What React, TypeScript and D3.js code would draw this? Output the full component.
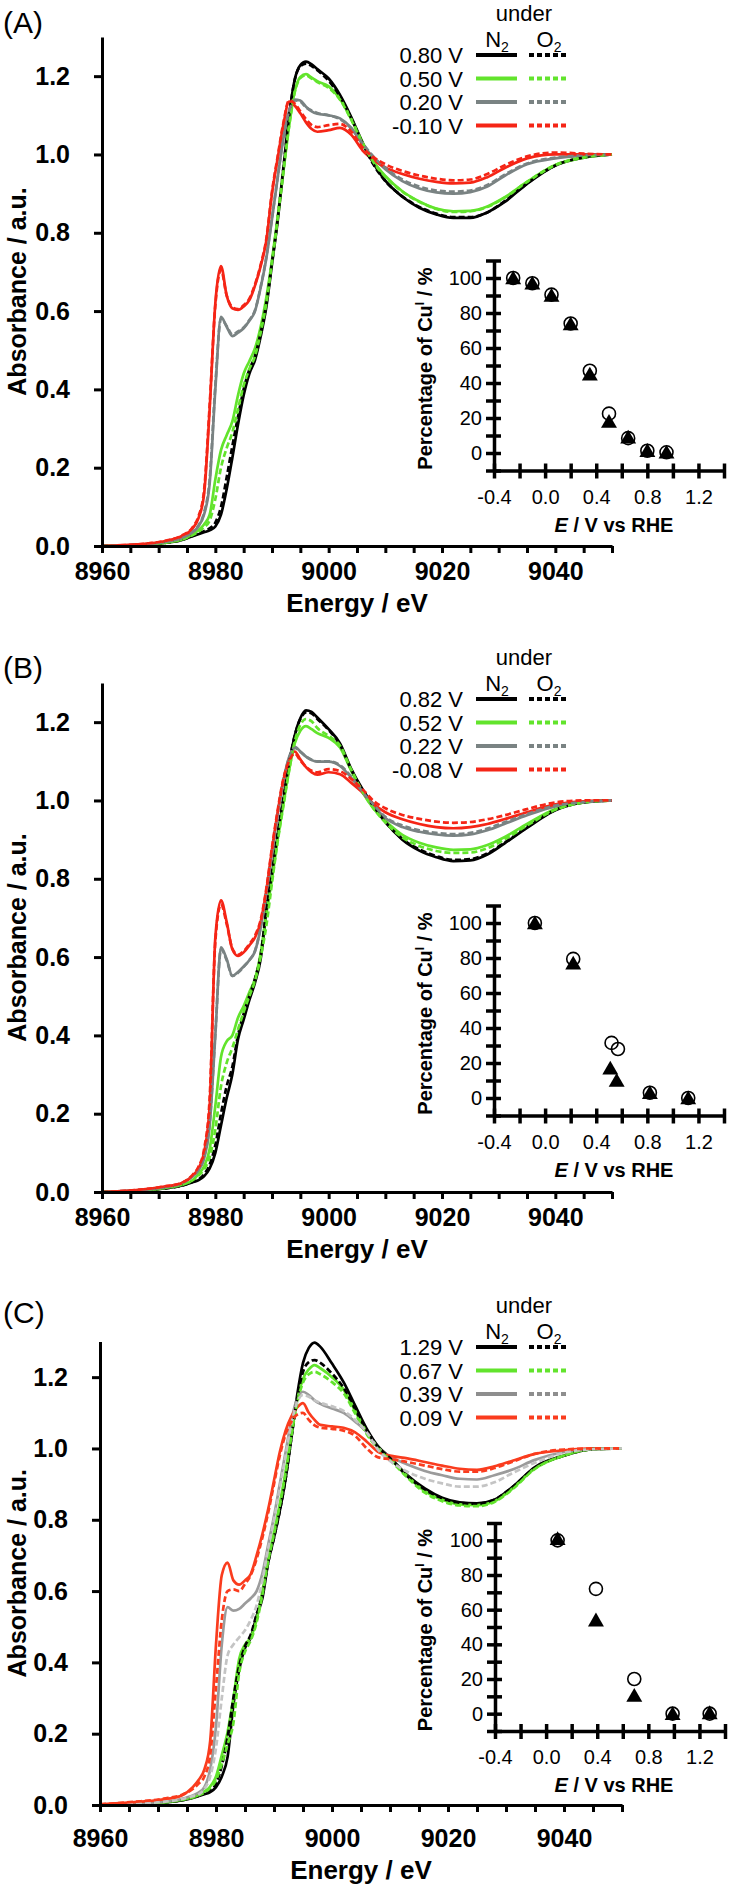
import React, {useEffect, useRef} from 'react';
import * as d3 from 'd3';

const FONT = '"Liberation Sans", Arial, Helvetica, sans-serif';

// energy grid (eV) shared by every spectrum
const energy = [
  8960, 8966, 8971, 8974, 8976, 8977, 8978, 8979, 8980, 8981,
  8982, 8983, 8984, 8985, 8986, 8987, 8988, 8989, 8990, 8991,
  8992, 8993, 8994, 8995, 8996, 8997, 8998, 9000, 9002, 9004,
  9006, 9008, 9010, 9013, 9016, 9019, 9022, 9025, 9028, 9031,
  9035, 9040, 9045, 9050,
];

const energyTicks = [8960, 8965, 8970, 8975, 8980, 8985, 8990, 8995, 9000, 9005, 9010, 9015, 9020, 9025, 9030, 9035, 9040, 9045, 9050];
const energyLabels = [8960, 8980, 9000, 9020, 9040];
const absTicks = [0, 0.2, 0.4, 0.6, 0.8, 1.0, 1.2];
const pctTicks = [-10, 0, 10, 20, 30, 40, 50, 60, 70, 80, 90, 100, 110];
const pctLabels = [0, 20, 40, 60, 80, 100];
const potTicks = [-0.4, -0.2, 0, 0.2, 0.4, 0.6, 0.8, 1.0, 1.2, 1.4];
const potLabels = [-0.4, 0, 0.4, 0.8, 1.2];

// ---- panel A ----
const legendA = ['0.80 V', '0.50 V', '0.20 V', '-0.10 V'];
const aBlackN2 = [
  0.000, 0.002, 0.008, 0.015, 0.025, 0.030, 0.035, 0.040, 0.050, 0.080,
  0.145, 0.225, 0.310, 0.385, 0.440, 0.475, 0.535, 0.610, 0.720, 0.830,
  0.960, 1.095, 1.190, 1.228, 1.237, 1.230, 1.218, 1.194, 1.152, 1.095,
  1.030, 0.975, 0.933, 0.892, 0.864, 0.847, 0.838, 0.838, 0.852, 0.878,
  0.925, 0.972, 0.992, 1.000,
];
const aBlackO2 = [
  0.000, 0.002, 0.008, 0.015, 0.026, 0.032, 0.038, 0.045, 0.060, 0.100,
  0.175, 0.255, 0.330, 0.400, 0.450, 0.485, 0.545, 0.620, 0.725, 0.835,
  0.965, 1.095, 1.190, 1.225, 1.232, 1.226, 1.215, 1.188, 1.148, 1.092,
  1.028, 0.972, 0.932, 0.893, 0.866, 0.849, 0.840, 0.840, 0.852, 0.880,
  0.926, 0.972, 0.993, 1.000,
];
const aGreenN2 = [
  0.000, 0.002, 0.008, 0.016, 0.030, 0.040, 0.055, 0.080, 0.170, 0.245,
  0.283, 0.318, 0.385, 0.440, 0.472, 0.505, 0.560, 0.635, 0.730, 0.840,
  0.955, 1.070, 1.160, 1.198, 1.205, 1.196, 1.187, 1.174, 1.142, 1.090,
  1.030, 0.980, 0.945, 0.906, 0.880, 0.862, 0.855, 0.856, 0.867, 0.890,
  0.930, 0.973, 0.992, 1.000,
];
const aGreenO2 = [
  0.000, 0.002, 0.008, 0.016, 0.028, 0.036, 0.048, 0.065, 0.120, 0.200,
  0.250, 0.290, 0.350, 0.410, 0.452, 0.485, 0.545, 0.620, 0.725, 0.835,
  0.955, 1.070, 1.158, 1.195, 1.202, 1.194, 1.185, 1.170, 1.140, 1.088,
  1.028, 0.978, 0.943, 0.905, 0.879, 0.861, 0.853, 0.855, 0.866, 0.889,
  0.930, 0.973, 0.993, 1.000,
];
const aGrayN2 = [
  0.000, 0.003, 0.010, 0.020, 0.035, 0.050, 0.080, 0.160, 0.400, 0.585,
  0.560, 0.536, 0.545, 0.556, 0.575, 0.600, 0.660, 0.735, 0.835, 0.940,
  1.040, 1.110, 1.140, 1.138, 1.122, 1.110, 1.104, 1.100, 1.092, 1.068,
  1.025, 0.990, 0.962, 0.932, 0.913, 0.903, 0.900, 0.904, 0.918, 0.945,
  0.975, 0.990, 0.997, 1.000,
];
const aGrayO2 = [
  0.000, 0.003, 0.010, 0.020, 0.036, 0.052, 0.085, 0.170, 0.410, 0.580,
  0.562, 0.540, 0.548, 0.558, 0.577, 0.602, 0.662, 0.738, 0.838, 0.942,
  1.042, 1.110, 1.138, 1.135, 1.120, 1.112, 1.106, 1.100, 1.090, 1.066,
  1.028, 0.993, 0.966, 0.936, 0.918, 0.908, 0.905, 0.908, 0.922, 0.948,
  0.977, 0.992, 0.998, 1.000,
];
const aRedN2 = [
  0.000, 0.004, 0.012, 0.025, 0.045, 0.070, 0.130, 0.350, 0.620, 0.715,
  0.640, 0.607, 0.603, 0.612, 0.628, 0.665, 0.715, 0.780, 0.900, 0.990,
  1.075, 1.135, 1.125, 1.105, 1.082, 1.065, 1.058, 1.062, 1.068, 1.050,
  1.010, 0.985, 0.967, 0.950, 0.938, 0.930, 0.926, 0.928, 0.942, 0.965,
  0.990, 1.000, 1.000, 1.000,
];
const aRedO2 = [
  0.000, 0.004, 0.013, 0.026, 0.048, 0.075, 0.140, 0.360, 0.615, 0.705,
  0.640, 0.610, 0.605, 0.615, 0.632, 0.668, 0.718, 0.785, 0.905, 0.995,
  1.080, 1.138, 1.130, 1.110, 1.090, 1.075, 1.070, 1.075, 1.078, 1.058,
  1.018, 0.992, 0.975, 0.958, 0.946, 0.938, 0.934, 0.936, 0.950, 0.972,
  0.995, 1.005, 1.002, 1.000,
];
const insetEA = [-0.25, -0.1, 0.05, 0.2, 0.35, 0.5, 0.65, 0.8, 0.95];
const circleA = [100, 97, 90.5, 74, 47, 22.5, 8.5, 1.3, 0.4];
const triangleEA = [-0.25, -0.1, 0.05, 0.2, 0.35, 0.5, 0.65, 0.8, 0.95];
const triangleA = [99, 96, 89, 72.8, 44, 17, 8, 0.4, -0.5];

// ---- panel B ----
const legendB = ['0.82 V', '0.52 V', '0.22 V', '-0.08 V'];
const bBlackN2 = [
  0.000, 0.003, 0.009, 0.016, 0.025, 0.030, 0.040, 0.060, 0.100, 0.170,
  0.240, 0.300, 0.390, 0.440, 0.490, 0.535, 0.595, 0.715, 0.810, 0.910,
  1.000, 1.090, 1.165, 1.210, 1.230, 1.226, 1.212, 1.182, 1.146, 1.080,
  1.028, 0.985, 0.945, 0.900, 0.872, 0.855, 0.845, 0.847, 0.862, 0.890,
  0.930, 0.975, 0.995, 1.000,
];
const bBlackO2 = [
  0.000, 0.003, 0.009, 0.016, 0.026, 0.032, 0.045, 0.070, 0.120, 0.200,
  0.270, 0.320, 0.400, 0.455, 0.500, 0.545, 0.605, 0.720, 0.815, 0.915,
  1.005, 1.095, 1.165, 1.208, 1.225, 1.222, 1.208, 1.180, 1.142, 1.078,
  1.026, 0.984, 0.945, 0.902, 0.875, 0.858, 0.848, 0.850, 0.865, 0.892,
  0.932, 0.976, 0.995, 1.000,
];
const bGreenN2 = [
  0.000, 0.003, 0.010, 0.018, 0.030, 0.045, 0.065, 0.110, 0.220, 0.345,
  0.385, 0.400, 0.445, 0.475, 0.510, 0.545, 0.610, 0.710, 0.800, 0.900,
  0.990, 1.075, 1.145, 1.178, 1.190, 1.182, 1.172, 1.160, 1.135, 1.075,
  1.020, 0.978, 0.948, 0.912, 0.892, 0.880, 0.874, 0.875, 0.886, 0.906,
  0.940, 0.978, 0.995, 1.000,
];
const bGreenO2 = [
  0.000, 0.003, 0.010, 0.018, 0.030, 0.042, 0.058, 0.090, 0.160, 0.270,
  0.330, 0.368, 0.415, 0.460, 0.500, 0.540, 0.600, 0.680, 0.790, 0.895,
  0.985, 1.075, 1.150, 1.193, 1.208, 1.202, 1.185, 1.165, 1.140, 1.078,
  1.022, 0.978, 0.944, 0.906, 0.884, 0.871, 0.866, 0.867, 0.878, 0.900,
  0.936, 0.976, 0.995, 1.000,
];
const bGrayN2 = [
  0.000, 0.004, 0.012, 0.022, 0.040, 0.055, 0.085, 0.170, 0.400, 0.625,
  0.595, 0.552, 0.562, 0.576, 0.592, 0.615, 0.675, 0.765, 0.865, 0.965,
  1.050, 1.110, 1.137, 1.125, 1.112, 1.103, 1.099, 1.099, 1.088, 1.058,
  1.020, 0.985, 0.955, 0.932, 0.920, 0.913, 0.910, 0.913, 0.924, 0.940,
  0.962, 0.985, 0.995, 1.000,
];
const bGrayO2 = [
  0.000, 0.004, 0.012, 0.022, 0.040, 0.056, 0.088, 0.175, 0.405, 0.620,
  0.592, 0.552, 0.560, 0.575, 0.592, 0.616, 0.676, 0.766, 0.866, 0.966,
  1.050, 1.108, 1.134, 1.124, 1.112, 1.104, 1.100, 1.100, 1.090, 1.060,
  1.022, 0.988, 0.958, 0.936, 0.924, 0.917, 0.914, 0.917, 0.928, 0.944,
  0.965, 0.987, 0.996, 1.000,
];
const bRedN2 = [
  0.000, 0.005, 0.014, 0.022, 0.042, 0.060, 0.100, 0.220, 0.650, 0.745,
  0.690, 0.620, 0.603, 0.612, 0.630, 0.650, 0.690, 0.770, 0.875, 0.970,
  1.050, 1.100, 1.125, 1.105, 1.085, 1.072, 1.066, 1.072, 1.067, 1.045,
  1.020, 0.990, 0.970, 0.952, 0.940, 0.932, 0.929, 0.932, 0.940, 0.952,
  0.970, 0.990, 0.998, 1.000,
];
const bRedO2 = [
  0.000, 0.005, 0.014, 0.023, 0.044, 0.064, 0.108, 0.240, 0.640, 0.735,
  0.685, 0.622, 0.606, 0.615, 0.633, 0.655, 0.695, 0.775, 0.880, 0.975,
  1.055, 1.100, 1.120, 1.102, 1.086, 1.076, 1.072, 1.080, 1.075, 1.055,
  1.028, 0.998, 0.980, 0.963, 0.953, 0.946, 0.943, 0.945, 0.952, 0.962,
  0.978, 0.995, 1.000, 1.000,
];
const insetEB = [-0.08, 0.22, 0.52, 0.57, 0.82, 1.12];
const circleB = [100, 79.5, 31.5, 28, 3, 0];
const triangleEB = [-0.08, 0.22, 0.51, 0.56, 0.82, 1.12];
const triangleB = [99, 76, 16, 9, 2, -1];

// ---- panel C ----
const legendC = ['1.29 V', '0.67 V', '0.39 V', '0.09 V'];
const cBlackN2 = [
  0.000, 0.002, 0.007, 0.013, 0.020, 0.025, 0.030, 0.036, 0.050, 0.080,
  0.135, 0.280, 0.380, 0.440, 0.470, 0.530, 0.580, 0.680, 0.750, 0.825,
  0.915, 1.030, 1.150, 1.240, 1.282, 1.297, 1.285, 1.238, 1.186, 1.120,
  1.055, 1.005, 0.975, 0.925, 0.888, 0.862, 0.849, 0.846, 0.856, 0.890,
  0.948, 0.980, 0.998, 1.000,
];
const cBlackO2 = [
  0.000, 0.002, 0.007, 0.013, 0.021, 0.026, 0.032, 0.040, 0.060, 0.110,
  0.190, 0.300, 0.390, 0.445, 0.478, 0.535, 0.590, 0.680, 0.750, 0.825,
  0.915, 1.030, 1.140, 1.215, 1.242, 1.248, 1.240, 1.210, 1.170, 1.110,
  1.050, 1.003, 0.973, 0.922, 0.885, 0.860, 0.847, 0.845, 0.856, 0.890,
  0.946, 0.980, 0.998, 1.000,
];
const cGreenN2 = [
  0.000, 0.002, 0.007, 0.014, 0.022, 0.028, 0.038, 0.052, 0.080, 0.140,
  0.205, 0.300, 0.410, 0.450, 0.470, 0.520, 0.600, 0.690, 0.765, 0.845,
  0.935, 1.040, 1.135, 1.195, 1.222, 1.234, 1.225, 1.200, 1.165, 1.105,
  1.045, 1.002, 0.972, 0.922, 0.880, 0.856, 0.843, 0.841, 0.852, 0.886,
  0.944, 0.980, 0.998, 1.000,
];
const cGreenO2 = [
  0.000, 0.002, 0.007, 0.014, 0.021, 0.027, 0.035, 0.048, 0.070, 0.115,
  0.170, 0.230, 0.370, 0.430, 0.462, 0.512, 0.590, 0.685, 0.760, 0.840,
  0.930, 1.035, 1.128, 1.185, 1.208, 1.215, 1.208, 1.186, 1.155, 1.098,
  1.040, 0.998, 0.968, 0.918, 0.876, 0.852, 0.840, 0.838, 0.850, 0.884,
  0.943, 0.980, 0.998, 1.000,
];
const cGrayN2 = [
  0.000, 0.003, 0.009, 0.017, 0.027, 0.035, 0.050, 0.100, 0.220, 0.450,
  0.555, 0.545, 0.550, 0.565, 0.580, 0.600, 0.650, 0.730, 0.810, 0.900,
  0.990, 1.080, 1.140, 1.159, 1.150, 1.135, 1.125, 1.112, 1.100, 1.075,
  1.045, 1.000, 0.978, 0.955, 0.937, 0.925, 0.915, 0.913, 0.925, 0.940,
  0.968, 0.990, 0.998, 1.000,
];
const cGrayO2 = [
  0.000, 0.003, 0.009, 0.016, 0.025, 0.030, 0.045, 0.080, 0.160, 0.300,
  0.420, 0.450, 0.470, 0.490, 0.520, 0.560, 0.630, 0.720, 0.800, 0.890,
  0.980, 1.070, 1.130, 1.150, 1.145, 1.135, 1.128, 1.118, 1.105, 1.080,
  1.045, 0.995, 0.965, 0.935, 0.915, 0.902, 0.893, 0.893, 0.905, 0.930,
  0.960, 0.988, 0.998, 1.000,
];
const cRedN2 = [
  0.002, 0.008, 0.016, 0.026, 0.050, 0.070, 0.100, 0.180, 0.450, 0.645,
  0.680, 0.630, 0.618, 0.630, 0.648, 0.700, 0.760, 0.830, 0.910, 0.990,
  1.050, 1.090, 1.115, 1.127, 1.100, 1.080, 1.066, 1.062, 1.058, 1.045,
  1.019, 0.990, 0.980, 0.972, 0.962, 0.952, 0.943, 0.940, 0.950, 0.965,
  0.985, 0.995, 1.000, 1.000,
];
const cRedO2 = [
  0.002, 0.009, 0.018, 0.028, 0.045, 0.060, 0.080, 0.140, 0.330, 0.520,
  0.600, 0.605, 0.600, 0.620, 0.645, 0.690, 0.750, 0.820, 0.900, 0.980,
  1.040, 1.075, 1.095, 1.100, 1.080, 1.065, 1.058, 1.055, 1.050, 1.035,
  1.000, 0.975, 0.970, 0.962, 0.952, 0.942, 0.935, 0.935, 0.945, 0.962,
  0.985, 0.997, 1.000, 1.000,
];
const insetEC = [0.09, 0.39, 0.69, 0.99, 1.28];
const circleC = [100, 72, 20, 0, 0];
const triangleEC = [0.09, 0.39, 0.69, 0.99, 1.28];
const triangleC = [100, 53, 9.5, -1, -0.5];

const BLACK = '#000000';
const GREEN = '#62e42c';
const GRAY = '#7a8383';
const RED = '#f52516';
const RED_C = '#fa3c1e';
const GRAY_C = '#9b9b9b';
const LIGHT_C = '#c4c4c4';
const GRAY_C_LEG = '#8e8e8e';

interface Curve {
  values: number[];
  color: string;
  dashed: boolean;
}

interface PanelSpec {
  tag: string;
  tagY: number;
  left: number;
  right: number;
  bottom: number;
  top: number;
  tickGap: number;
  titleGap: number;
  legendY: number;
  legend: string[];
  legendColors: string[];
  curves: Curve[];
  inset: {
    left: number;
    right: number;
    bottom: number;
    top: number;
    circleE: number[];
    circle: number[];
    triangleE: number[];
    triangle: number[];
  };
}

const curvesFor = (
  n2: number[][],
  o2: number[][],
  colorsN2: string[],
  colorsO2: string[]
): Curve[] => [
  ...n2.map((values, i) => ({values, color: colorsN2[i], dashed: false})),
  ...o2.map((values, i) => ({values, color: colorsO2[i], dashed: true})),
];

const panels: PanelSpec[] = [
  {
    tag: '(A)',
    tagY: 33,
    left: 102,
    right: 612,
    bottom: 546,
    top: 37,
    tickGap: 34,
    titleGap: 66,
    legendY: 55,
    legend: legendA,
    legendColors: [BLACK, GREEN, GRAY, RED],
    curves: curvesFor(
      [aBlackN2, aGreenN2, aGrayN2, aRedN2],
      [aBlackO2, aGreenO2, aGrayO2, aRedO2],
      [BLACK, GREEN, GRAY, RED],
      [BLACK, GREEN, GRAY, RED]
    ),
    inset: {left: 494, right: 724, bottom: 470.5, top: 260.5, circleE: insetEA, circle: circleA, triangleE: triangleEA, triangle: triangleA},
  },
  {
    tag: '(B)',
    tagY: 678,
    left: 102,
    right: 612,
    bottom: 1192,
    top: 683,
    tickGap: 34,
    titleGap: 66,
    legendY: 699,
    legend: legendB,
    legendColors: [BLACK, GREEN, GRAY, RED],
    curves: curvesFor(
      [bBlackN2, bGreenN2, bGrayN2, bRedN2],
      [bBlackO2, bGreenO2, bGrayO2, bRedO2],
      [BLACK, GREEN, GRAY, RED],
      [BLACK, GREEN, GRAY, RED]
    ),
    inset: {left: 494, right: 724, bottom: 1115.5, top: 905.5, circleE: insetEB, circle: circleB, triangleE: triangleEB, triangle: triangleB},
  },
  {
    tag: '(C)',
    tagY: 1323,
    left: 100,
    right: 622,
    bottom: 1805,
    top: 1341.5,
    tickGap: 42,
    titleGap: 74,
    legendY: 1347,
    legend: legendC,
    legendColors: [BLACK, GREEN, GRAY_C_LEG, RED_C],
    curves: curvesFor(
      [cBlackN2, cGreenN2, cGrayN2, cRedN2],
      [cBlackO2, cGreenO2, cGrayO2, cRedO2],
      [BLACK, GREEN, GRAY_C, RED_C],
      [BLACK, GREEN, LIGHT_C, RED_C]
    ),
    inset: {left: 495, right: 725, bottom: 1731, top: 1523, circleE: insetEC, circle: circleC, triangleE: triangleEC, triangle: triangleC},
  },
];

const near = (list: number[], v: number) => list.some((d) => Math.abs(d - v) < 1e-9);

function drawPanel(svg: d3.Selection<SVGSVGElement, unknown, null, undefined>, p: PanelSpec) {
  const g = svg.append('g');
  const x = d3.scaleLinear().domain([8960, 9050]).range([p.left, p.right]);
  const y = d3.scaleLinear().domain([0, 1.3]).range([p.bottom, p.top]);

  // spectra
  const line = d3
    .line<number>()
    .x((_, i) => x(energy[i]))
    .y((d) => y(d))
    .curve(d3.curveMonotoneX);

  g.selectAll('.spectrum')
    .data(p.curves)
    .enter()
    .append('path')
    .attr('class', 'spectrum')
    .attr('d', (c) => line(c.values))
    .attr('fill', 'none')
    .attr('stroke', (c) => c.color)
    .attr('stroke-width', 2.7)
    .attr('stroke-linejoin', 'round')
    .attr('stroke-dasharray', (c) => (c.dashed ? '6,3' : null));

  // main axes
  const xAxis = d3
    .axisBottom(x)
    .tickValues(energyTicks)
    .tickSize(7)
    .tickSizeOuter(0)
    .tickFormat((d) => (near(energyLabels, +d) ? String(d) : ''));
  const xG = g.append('g').attr('transform', `translate(0,${p.bottom})`).call(xAxis);
  xG.selectAll('.tick text').attr('y', p.tickGap).attr('dy', 0);

  const yAxis = d3
    .axisLeft(y)
    .tickValues(absTicks)
    .tickSize(8)
    .tickSizeOuter(0)
    .tickFormat((d) => (+d).toFixed(1));
  const yG = g.append('g').attr('transform', `translate(${p.left},0)`).call(yAxis);
  yG.selectAll('.tick text').attr('x', -32);

  [xG, yG].forEach((a) => {
    a.attr('font-family', FONT);
    a.select('.domain').attr('stroke', '#000').attr('stroke-width', 3);
    a.selectAll('.tick line').attr('stroke', '#000').attr('stroke-width', 3);
    a.selectAll('.tick text')
      .attr('fill', '#000')
      .attr('font-size', 25)
      .attr('font-weight', 'bold');
  });

  g.append('text')
    .attr('x', (p.left + p.right) / 2)
    .attr('y', p.bottom + p.titleGap)
    .attr('text-anchor', 'middle')
    .attr('font-family', FONT)
    .attr('font-size', 26)
    .attr('font-weight', 'bold')
    .text('Energy / eV');

  g.append('text')
    .attr('transform', `translate(26,${(p.top + p.bottom) / 2}) rotate(-90)`)
    .attr('text-anchor', 'middle')
    .attr('font-family', FONT)
    .attr('font-size', 25)
    .attr('font-weight', 'bold')
    .text('Absorbance / a.u.');

  g.append('text')
    .attr('x', 3)
    .attr('y', p.tagY)
    .attr('font-family', FONT)
    .attr('font-size', 30)
    .text(p.tag);

  // legend
  const leg = g.append('g').attr('font-family', FONT).attr('font-size', 22);
  leg.append('text')
    .attr('x', 524)
    .attr('y', p.legendY - 34)
    .attr('text-anchor', 'middle')
    .text('under');
  [['N', 497], ['O', 549]].forEach(([gas, cx]) => {
    const t = leg
      .append('text')
      .attr('x', cx as number)
      .attr('y', p.legendY - 8)
      .attr('text-anchor', 'middle');
    t.append('tspan').text(gas as string);
    t.append('tspan').attr('dy', 5).attr('font-size', 14).text('2');
  });
  p.legend.forEach((label, i) => {
    const ly = p.legendY + i * 23.5;
    leg.append('text').attr('x', 463).attr('y', ly + 8).attr('text-anchor', 'end').text(label);
    leg.append('line')
      .attr('x1', 476).attr('x2', 517).attr('y1', ly).attr('y2', ly)
      .attr('stroke', p.legendColors[i]).attr('stroke-width', 4);
    leg.append('line')
      .attr('x1', 529).attr('x2', 569).attr('y1', ly).attr('y2', ly)
      .attr('stroke', p.legendColors[i]).attr('stroke-width', 4)
      .attr('stroke-dasharray', '5,3');
  });

  // inset
  const ins = p.inset;
  const ix = d3.scaleLinear().domain([-0.4, 1.4]).range([ins.left, ins.right]);
  const iy = d3.scaleLinear().domain([-10, 110]).range([ins.bottom, ins.top]);

  const ixAxis = d3
    .axisBottom(ix)
    .tickValues(potTicks)
    .tickSize(8)
    .tickSizeOuter(0)
    .tickFormat((d) => (near(potLabels, +d) ? (+d).toFixed(1) : ''));
  const ixG = g.append('g').attr('transform', `translate(0,${iy(-10)})`).call(ixAxis);
  ixG.selectAll('.tick line').attr('y1', -7);
  ixG.selectAll('.tick text').attr('y', 33).attr('dy', 0);

  const iyAxis = d3
    .axisLeft(iy)
    .tickValues(pctTicks)
    .tickSize(8)
    .tickSizeOuter(0)
    .tickFormat((d) => (near(pctLabels, +d) ? String(d) : ''));
  const iyG = g.append('g').attr('transform', `translate(${ix(-0.4)},0)`).call(iyAxis);
  iyG.selectAll('.tick line').attr('x1', 7);
  iyG.selectAll('.tick text').attr('x', -12);

  [ixG, iyG].forEach((a) => {
    a.attr('font-family', FONT);
    a.select('.domain').attr('stroke', '#000').attr('stroke-width', 3.5);
    a.selectAll('.tick line').attr('stroke', '#000').attr('stroke-width', 3.5);
    a.selectAll('.tick text').attr('fill', '#000').attr('font-size', 20);
  });

  const eLabel = g
    .append('text')
    .attr('x', 614)
    .attr('y', iy(-10) + 61)
    .attr('text-anchor', 'middle')
    .attr('font-family', FONT)
    .attr('font-size', 20)
    .attr('font-weight', 'bold');
  eLabel.append('tspan').attr('font-style', 'italic').text('E');
  eLabel.append('tspan').text(' / V vs RHE');

  const pLabel = g
    .append('text')
    .attr('transform', `translate(432,${(ins.top + ins.bottom) / 2 + 3}) rotate(-90)`)
    .attr('text-anchor', 'middle')
    .attr('font-family', FONT)
    .attr('font-size', 20)
    .attr('font-weight', 'bold');
  pLabel.append('tspan').text('Percentage of Cu');
  pLabel.append('tspan').attr('dy', -8).attr('font-size', 12).text('I');
  pLabel.append('tspan').attr('dy', 8).text(' / %');

  g.selectAll('.pt-circle')
    .data(ins.circle)
    .enter()
    .append('circle')
    .attr('class', 'pt-circle')
    .attr('cx', (_, i) => ix(ins.circleE[i]))
    .attr('cy', (d) => iy(d))
    .attr('r', 6.5)
    .attr('fill', 'none')
    .attr('stroke', '#000')
    .attr('stroke-width', 1.6);

  const tri = d3.symbol().type(d3.symbolTriangle).size(110);
  g.selectAll('.pt-tri')
    .data(ins.triangle)
    .enter()
    .append('path')
    .attr('class', 'pt-tri')
    .attr('d', tri)
    .attr('transform', (d, i) => `translate(${ix(ins.triangleE[i])},${iy(d)})`)
    .attr('fill', '#000');
}

const App: React.FC = () => {
  const svgRef = useRef<SVGSVGElement | null>(null);

  useEffect(() => {
    if (!svgRef.current) return;
    const svg = d3.select(svgRef.current);
    svg.selectAll('*').remove();
    panels.forEach((p) => drawPanel(svg, p));
  }, []);

  return (
    <svg
      ref={svgRef}
      width={730}
      height={1887}
      style={{position: 'absolute', left: 0, top: 0, background: '#fff'}}
    />
  );
};

export default App;
